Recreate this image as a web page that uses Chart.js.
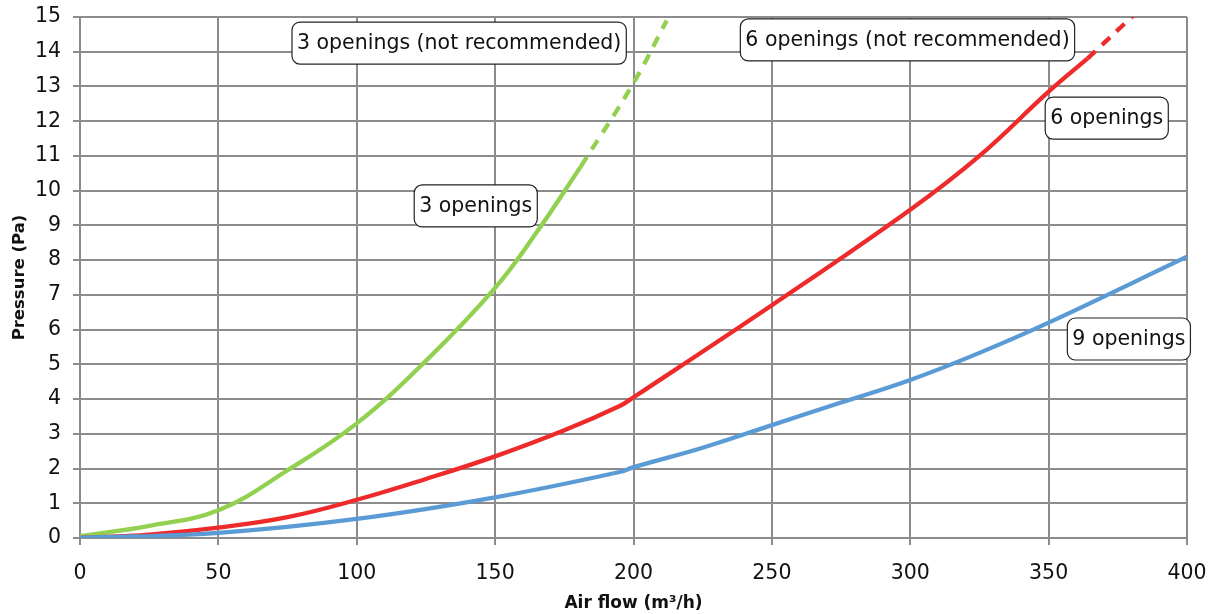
<!DOCTYPE html>
<html>
<head>
<meta charset="utf-8">
<script src="https://cdn.jsdelivr.net/npm/chart.js@4"></script>
<style>
  html, body { margin: 0; padding: 0; background: #fff; }
  #wrap { width: 1218px; height: 614px; }
</style>
</head>
<body>
<div id="wrap"><canvas id="chart"></canvas></div>
<script>
// Pressure drop vs air flow, per number of openings
const threeX      = [0, 25, 50, 75, 100, 125, 150, 165, 181];
const threeY      = [0.05, 0.35, 0.8, 1.95, 3.3, 5.1, 7.2, 8.8, 10.7];
const threeDashX  = [181, 200, 212];
const threeDashY  = [10.7, 13.1, 14.9];

const sixX        = [0, 25, 50, 75, 100, 125, 150, 175, 195, 200, 250, 300, 325, 350, 364];
const sixY        = [0, 0.1, 0.3, 0.6, 1.1, 1.7, 2.35, 3.1, 3.8, 4.05, 6.7, 9.45, 11.0, 12.85, 13.8];
const sixDashX    = [364, 382];
const sixDashY    = [13.8, 15.15];

const nineX       = [0, 50, 100, 150, 195, 200, 225, 250, 275, 300, 325, 350, 400];
const nineY       = [0, 0.15, 0.55, 1.17, 1.9, 2.04, 2.6, 3.25, 3.9, 4.55, 5.33, 6.2, 8.1];

const labelText = ['3 openings (not recommended)', '3 openings', '6 openings (not recommended)', '6 openings', '9 openings'];
const labelAt   = [[137, 14.25], [143, 9.56], [299, 14.34], [371, 12.09], [379, 5.73]];

const GREEN = '#92d050';
const RED   = '#ee2a2a';
const BLUE  = '#5b9bd5';
const FONT  = '"DejaVu Sans", sans-serif';

const pts = (xs, ys) => xs.map((x, i) => ({ x, y: ys[i] }));

function line(data, color, dashed) {
  return {
    data,
    borderColor: color,
    borderWidth: 4.3,
    borderDash: dashed ? [11, 9] : [],
    pointRadius: 0,
    fill: false,
    tension: 0.4
  };
}

// Rounded white boxes with series names
const boxLabels = {
  id: 'boxLabels',
  afterDatasetsDraw(chart) {
    const { ctx, scales } = chart;
    ctx.save();
    ctx.font = '20.5px ' + FONT;
    ctx.textAlign = 'center';
    ctx.textBaseline = 'middle';
    labelText.forEach((t, i) => {
      const cx = scales.x.getPixelForValue(labelAt[i][0]);
      const cy = scales.y.getPixelForValue(labelAt[i][1]);
      const w = ctx.measureText(t).width + 10;
      const h = 42;
      ctx.beginPath();
      ctx.roundRect(cx - w / 2, cy - h / 2, w, h, 8);
      ctx.fillStyle = '#fff';
      ctx.fill();
      ctx.lineWidth = 1.2;
      ctx.strokeStyle = '#222';
      ctx.stroke();
      ctx.fillStyle = '#111';
      ctx.fillText(t, cx, cy + 1);
    });
    ctx.restore();
  }
};

new Chart(document.getElementById('chart'), {
  type: 'line',
  data: {
    datasets: [
      line(pts(nineX, nineY), BLUE, false),
      line(pts(sixX, sixY), RED, false),
      line(pts(sixDashX, sixDashY), RED, true),
      line(pts(threeX, threeY), GREEN, false),
      line(pts(threeDashX, threeDashY), GREEN, true)
    ]
  },
  options: {
    responsive: true,
    maintainAspectRatio: false,
    animation: false,
    layout: { padding: { top: 17, right: 31, left: 0, bottom: 0 } },
    plugins: { legend: { display: false }, tooltip: { enabled: false } },
    scales: {
      x: {
        type: 'linear',
        min: 0, max: 400,
        ticks: { stepSize: 50, color: '#111', font: { family: FONT, size: 20.5 }, padding: 16 },
        grid: { color: '#8c8c8c', lineWidth: 2, tickLength: 7 },
        border: { color: '#8c8c8c', width: 2 },
        title: { display: true, text: 'Air flow (m³/h)', color: '#111', font: { family: FONT, size: 17, weight: 'bold' }, padding: { top: 0, bottom: 0 } },
        afterFit(scale) { scale.height = 76; scale.paddingLeft = 0; scale.paddingRight = 0; }
      },
      y: {
        min: 0, max: 15,
        ticks: { stepSize: 1, color: '#111', font: { family: FONT, size: 20.5 }, padding: 12 },
        grid: { color: '#8c8c8c', lineWidth: 2, tickLength: 7 },
        border: { color: '#8c8c8c', width: 2 },
        title: { display: true, text: 'Pressure (Pa)', color: '#111', font: { family: FONT, size: 16.5, weight: 'bold' }, padding: { top: 10, bottom: 0 } },
        afterFit(scale) { scale.width = 80; scale.paddingTop = 0; scale.paddingBottom = 0; }
      }
    }
  },
  plugins: [boxLabels]
});
</script>
</body>
</html>
